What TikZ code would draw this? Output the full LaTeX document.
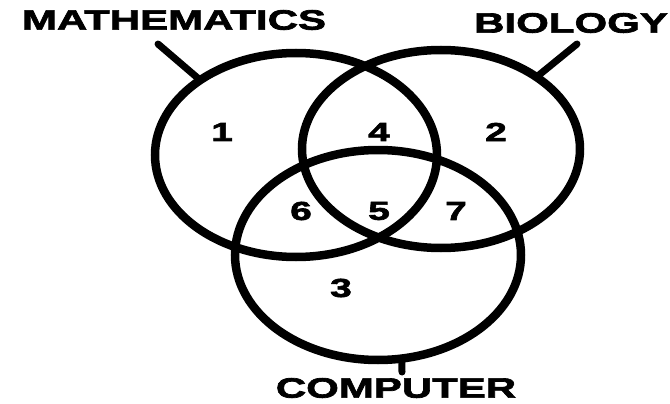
\documentclass[tikz,border=0pt]{standalone}
\usepackage{fontspec}
\usetikzlibrary{shapes.geometric}
\newfontfamily\vennfont{Liberation Sans}[FakeStretch=1.5,BoldFeatures={FakeBold=2.5}]
\begin{document}
\begin{tikzpicture}[x=1pt,y=-1pt,
  setring/.style={ellipse, draw, line width=8.5pt, inner sep=0pt, outer sep=0pt},
  tickline/.style={line width=7pt, line cap=round},
  setname/.style={inner sep=0pt, font=\vennfont\bfseries\fontsize{28}{28}\selectfont},
  region/.style={inner sep=0pt, font=\vennfont\bfseries\fontsize{26}{26}\selectfont}]
\useasboundingbox (0,0) rectangle (670,404);
\fill[white] (0,0) rectangle (670,404);
% sets
\node[setring, minimum width=282pt, minimum height=204pt] (M) at (296,155) {};
\node[setring, minimum width=278pt, minimum height=198pt] (B) at (441,149) {};
\node[setring, minimum width=286pt, minimum height=210pt] (C) at (378,255) {};
% labels
\node[setname] (ML) at (174,20) {MATHEMATICS};
\node[setname] (BL) at (571,23) {BIOLOGY};
\node[setname] (CL) at (396,388) {COMPUTER};
% ticks
\coordinate (mt) at (158,44);
\coordinate (bt) at (577,44);
\coordinate (ct) at (402,372);
\draw[tickline] (mt) -- (M.142);
\draw[tickline] (bt) -- (B.37);
\draw[tickline] (ct) -- (C.-77);
% regions
\node[region] (r1) at (222,132) {1};
\node[region] (r4) at (379,132) {4};
\node[region] (r2) at (496,132) {2};
\node[region] (r6) at (301,211) {6};
\node[region] (r5) at (379,211) {5};
\node[region] (r7) at (456,211) {7};
\node[region] (r3) at (341,288) {3};
\end{tikzpicture}
\end{document}
